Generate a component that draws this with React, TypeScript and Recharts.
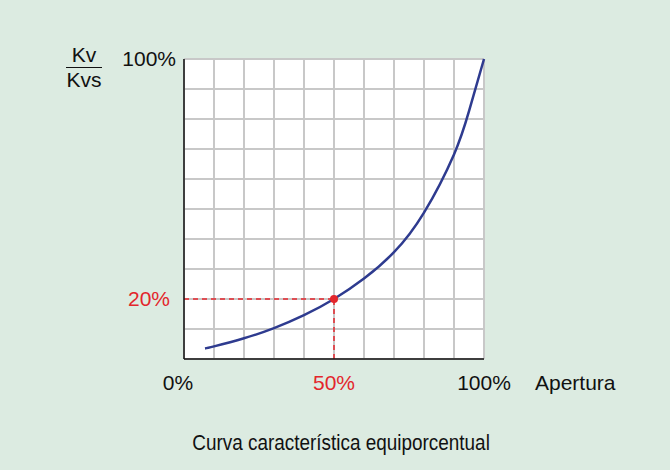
import { ComposedChart, Line, XAxis, YAxis, CartesianGrid, ReferenceLine, ReferenceDot } from 'recharts';

// apertura (%) vs Kv/Kvs (%)
const apertura = [7, 10, 20, 30, 40, 50, 60, 70, 80, 90, 95, 100];
const kvRatio = [3.5, 4.2, 6.9, 10.3, 14.6, 20, 26.8, 35.6, 48.8, 68.2, 82.6, 100];
const gridTicks = [0, 10, 20, 30, 40, 50, 60, 70, 80, 90, 100];
const xLabels: Record<number, string> = { 0: '0%', 50: '50%', 100: '100%' };
const yLabels: Record<number, string> = { 20: '20%', 100: '100%' };

const data = apertura.map((a, i) => ({ a, kv: kvRatio[i] }));

const FONT = '"Liberation Sans", Arial, sans-serif';
const RED = '#e3262c';

const XTick = (props: any) => {
  const { x, y, payload } = props;
  const label = xLabels[payload.value];
  if (!label) return null;
  return (
    <text x={x + (payload.value === 0 ? -6 : 0)} y={y + 18} dy="0.35em" textAnchor="middle"
      fontFamily={FONT} fontSize={21} fill={payload.value === 50 ? RED : '#111'}>
      {label}
    </text>
  );
};

const YTick = (props: any) => {
  const { x, y, payload } = props;
  const label = yLabels[payload.value];
  if (!label) return null;
  return (
    <text x={x + (payload.value === 20 ? -6 : 0)} y={y} dy="0.35em" textAnchor="end"
      fontFamily={FONT} fontSize={21} fill={payload.value === 20 ? RED : '#111'}>
      {label}
    </text>
  );
};

export default function App() {
  return (
    <div style={{ position: 'relative', width: 670, height: 470, background: '#dcebe1', fontFamily: FONT, color: '#111' }}>
      <style>{`body{margin:0}`}</style>
      <ComposedChart width={670} height={470} data={data} margin={{ top: 59, right: 186, bottom: 71, left: 124 }}>
        <CartesianGrid stroke="#c8c8c8" strokeWidth={2} fill="#fff"
          horizontalValues={gridTicks} verticalValues={gridTicks} />
        <XAxis dataKey="a" type="number" domain={[0, 100]} ticks={gridTicks} interval={0}
          height={40} tickLine={false} tickMargin={0} tick={<XTick />}
          axisLine={{ stroke: '#111', strokeWidth: 1.5 }} />
        <YAxis type="number" domain={[0, 100]} ticks={gridTicks} interval={0}
          width={60} tickLine={false} tickMargin={2} tick={<YTick />}
          axisLine={{ stroke: '#111', strokeWidth: 1.5 }} />
        <ReferenceLine segment={[{ x: 0, y: 20 }, { x: 50, y: 20 }]} stroke={RED} strokeWidth={1.5} strokeDasharray="5 4" />
        <ReferenceLine segment={[{ x: 50, y: 0 }, { x: 50, y: 20 }]} stroke={RED} strokeWidth={1.5} strokeDasharray="5 4" />
        <Line type="natural" dataKey="kv" stroke="#2e3b8f" strokeWidth={2.5} dot={false} isAnimationActive={false} />
        <ReferenceDot x={50} y={20} r={4} fill={RED} stroke="none" />
      </ComposedChart>

      <div style={{ position: 'absolute', left: 66, top: 43, width: 36, textAlign: 'center', fontSize: 21, lineHeight: '24px' }}>
        <div style={{ borderBottom: '1.5px solid #111' }}>Kv</div>
        <div>Kvs</div>
      </div>
      <div style={{ position: 'absolute', left: 535, top: 371, fontSize: 21, lineHeight: '24px' }}>Apertura</div>
      <div style={{ position: 'absolute', left: 0, width: 683, top: 430, textAlign: 'center', fontSize: 22, lineHeight: '26px' }}>
        <span style={{ display: 'inline-block', transform: 'scaleX(0.86)' }}>Curva característica equiporcentual</span>
      </div>
    </div>
  );
}
